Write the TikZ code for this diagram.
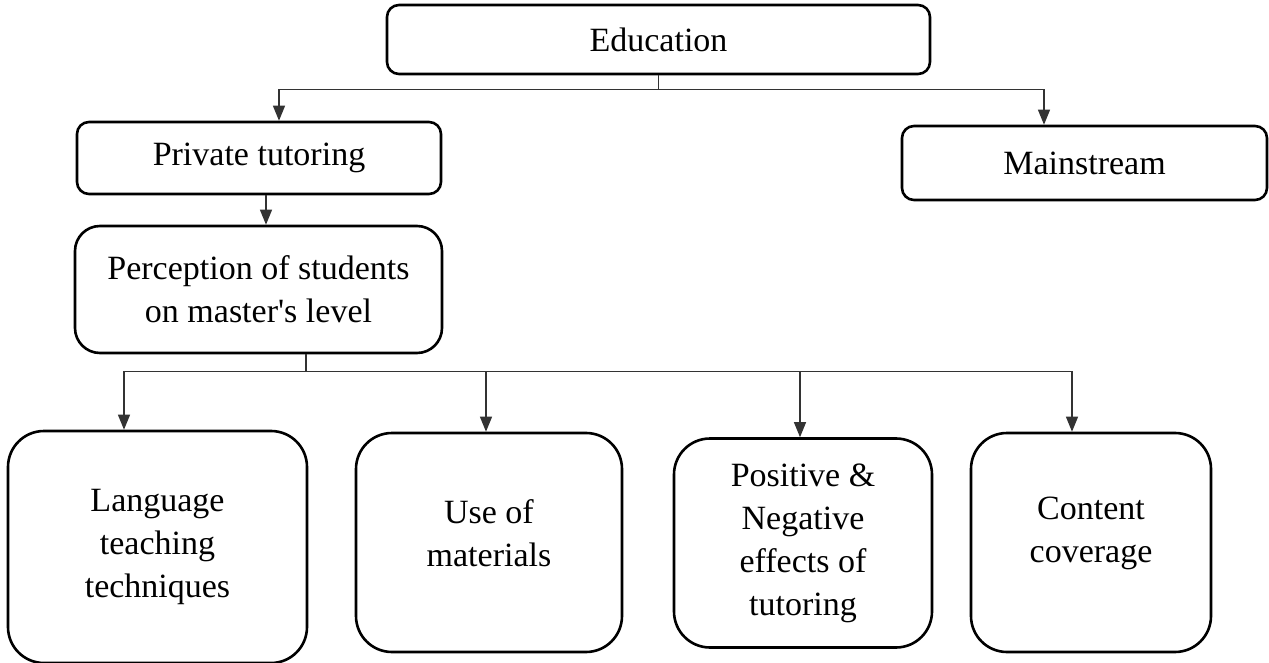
\documentclass[tikz,border=0pt]{standalone}
\usepackage{fontspec}
\setmainfont{Liberation Serif}[Ligatures=TeXOff]
\usetikzlibrary{arrows.meta,calc}
\begin{document}
\begin{tikzpicture}[x=0.5pt,y=-0.5pt,
  box/.style={draw=black,line width=1.3pt,rounded corners=#1,inner sep=0pt,align=center,
    font=\fontsize{17}{21.5}\selectfont},
  txt/.style={inner sep=0pt,align=center,font=\fontsize{17}{21.5}\selectfont},
  conn/.style={draw=black!80,line width=0.6pt},
  arr/.style={conn,-{Triangle[length=7.5pt,width=6pt]}}]
\useasboundingbox (0,0) rectangle (1269,663);
% top level
\node[box=6pt,minimum width=271.5pt,minimum height=34.5pt] (edu) at (658.5,39.5) {Education};
\node[box=6pt,minimum width=182pt,minimum height=36pt] (pt) at (259,158) {Private tutoring};
\node[box=6pt,minimum width=182.5pt,minimum height=37pt] (ms) at (1084.5,163) {Mainstream};
\node[box=12.5pt,minimum width=183.5pt,minimum height=63.5pt] (pc) at (258.5,289.5) {Perception of students\\on master's level};
% bottom boxes
\node[box=18pt,minimum width=149.5pt,minimum height=116pt] (b1) at (157.5,547) {Language\\teaching\\techniques};
\node[box=18pt,minimum width=133pt,minimum height=109.5pt] (b2) at (489,542.5) {};
\node[txt] (b2t) at ($(b2.center)+(0,-9)$) {Use of\\materials};
\node[box=18pt,minimum width=129pt,minimum height=104.5pt] (b3) at (803,543) {Positive \&\\Negative\\effects of\\tutoring};
\node[box=18pt,minimum width=120pt,minimum height=109.5pt] (b4) at (1091,542.5) {};
\node[txt] (b4t) at ($(b4.center)+(0,-9)$) {Content\\coverage};
% connectors from Education
\coordinate (j1) at ($(edu.south)+(0,14)$);
\draw[conn] (edu.south) -- (j1);
\draw[arr] (j1) -| ($(pt.north)+(20,0)$);
\draw[arr] (j1) -| ($(ms.north)+(-40.5,0)$);
% private tutoring -> perception
\draw[arr] ($(pt.south)+(7,0)$) -- ($(pc.north)+(7.5,0)$);
% perception -> bottom boxes
\coordinate (p0) at ($(pc.south)+(47.5,0)$);
\coordinate (j2) at ($(p0)+(0,17)$);
\draw[conn] (p0) -- (j2);
\draw[arr] (j2) -| ($(b1.north)+(-33.5,0)$);
\draw[arr] (j2) -| ($(b2.north)+(-3,0)$);
\draw[arr] (j2) -| ($(b3.north)+(-3,0)$);
\draw[arr] (j2) -| ($(b4.north)+(-19,0)$);
\end{tikzpicture}
\end{document}
